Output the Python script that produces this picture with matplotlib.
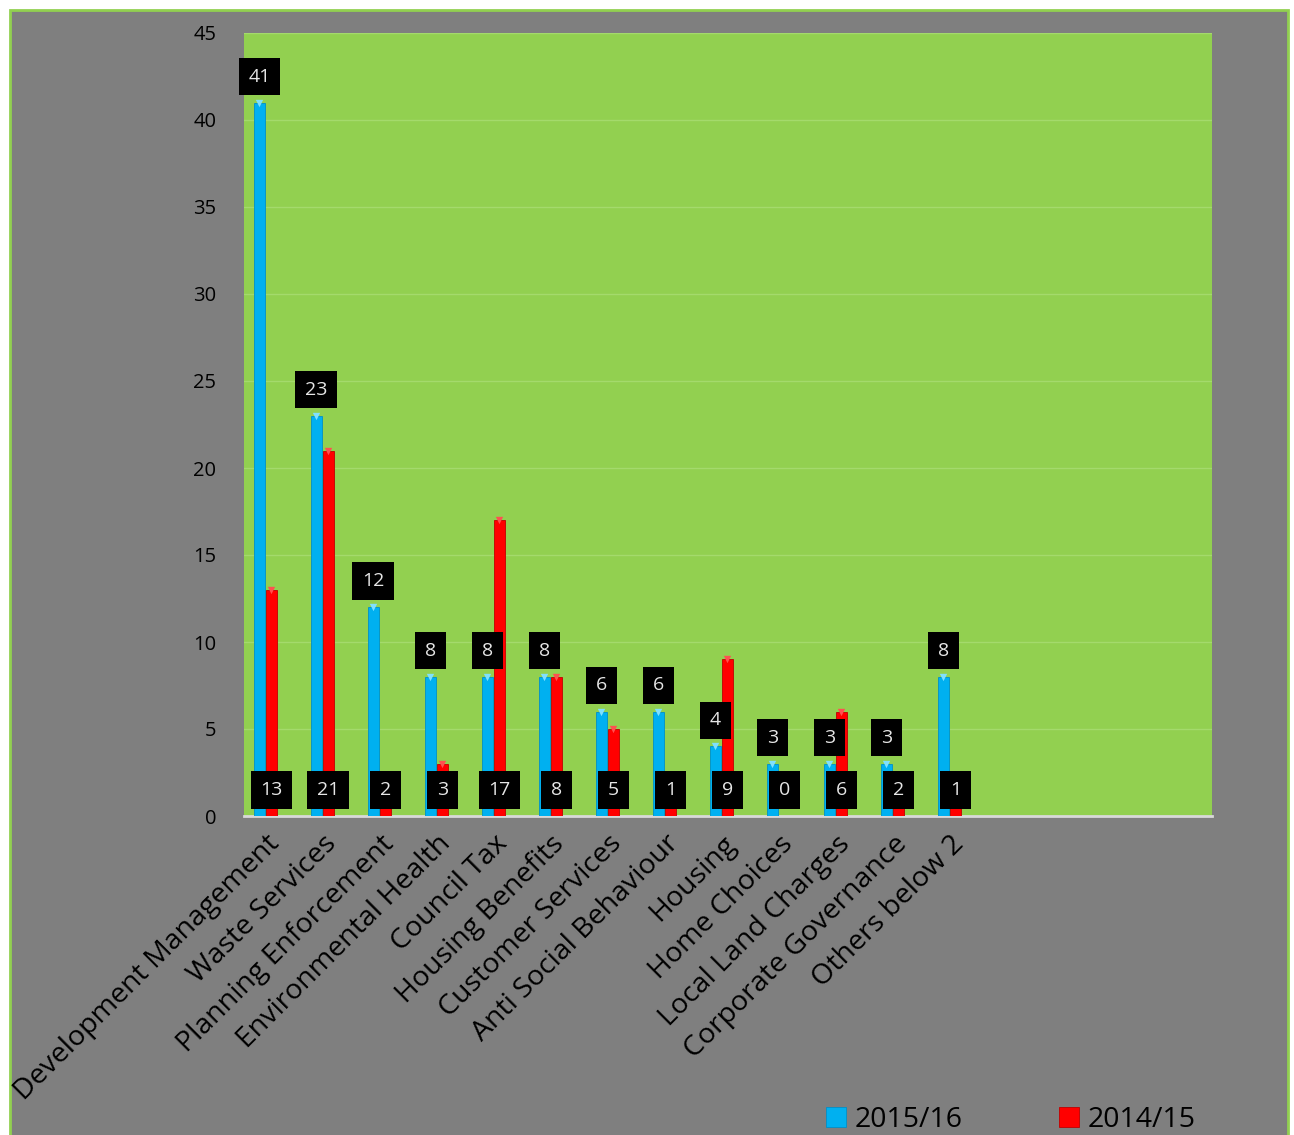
import numpy as np
import matplotlib.pyplot as plt
from matplotlib.patches import Rectangle

categories = ["Development Management", "Waste Services", "Planning Enforcement",
              "Environmental Health", "Council Tax", "Housing Benefits",
              "Customer Services", "Anti Social Behaviour", "Housing",
              "Home Choices", "Local Land Charges", "Corporate Governance",
              "Others below 2"]
y2015 = [41, 23, 12, 8, 8, 8, 6, 6, 4, 3, 3, 3, 8]
y2014 = [13, 21, 2, 3, 17, 8, 5, 1, 9, 0, 6, 2, 1]

plt.rcParams['font.family'] = ['Open Sans', 'DejaVu Sans']

fig = plt.figure(figsize=(12.94, 11.35), dpi=100)
fig.patch.set_facecolor('white')
# grey chart area with green border
bg = Rectangle((10 / 1294, -0.01), 1278 / 1294, 1 - 10 / 1135 + 0.01,
               transform=fig.transFigure, facecolor='#7f7f7f',
               edgecolor='#92d050', linewidth=2, zorder=-10)
fig.add_artist(bg)

ax = fig.add_axes([244 / 1294, 1 - 816 / 1135, 968 / 1294, 783 / 1135])
ax.set_facecolor('#92d050')

x = np.arange(len(categories))
w = 0.19
blue = '#00b0f0'
red = '#ff0000'
b1 = ax.bar(x - 0.21, y2015, w, color=blue, edgecolor='#0090c8', linewidth=0.6, zorder=3, label='2015/16')
b2 = ax.bar(x, y2014, w, color=red, edgecolor='#c00000', linewidth=0.6, zorder=3, label='2014/15')

# little caps on top of bars
ax.scatter(x - 0.21, y2015, marker='v', s=28, color='#7fe0ff', zorder=4, linewidths=0)
nz = [i for i, v in enumerate(y2014) if v > 0]
ax.scatter(x[nz], [y2014[i] for i in nz], marker='v', s=28, color='#ff5050', zorder=4, linewidths=0)

box = dict(boxstyle='square,pad=0.5', facecolor='black', edgecolor='none')
for xi, v in zip(x, y2015):
    ax.text(xi - 0.21, v + 1.5, str(v), ha='center', va='center', color='#e6e6e6',
            fontsize=14, bbox=box, zorder=5)
for xi, v in zip(x, y2014):
    ax.text(xi, 1.5, str(v), ha='center', va='center', color='#e6e6e6',
            fontsize=14, bbox=box, zorder=5)

ax.set_xlim(-0.48, 16.5)
ax.set_ylim(0, 45)
ax.set_yticks(range(0, 46, 5))
ax.tick_params(axis='y', length=0, labelsize=14.5, pad=20)
ax.tick_params(axis='x', length=0, pad=10)
ax.set_xticks(x - 0.1)
ax.set_xticklabels(categories, rotation=45, ha='right', rotation_mode='anchor', fontsize=20.5)
ax.yaxis.grid(True, color='#a4da6c', linewidth=1, zorder=1)
ax.set_axisbelow(True)
for s in ['top', 'right', 'left']:
    ax.spines[s].set_visible(False)
ax.spines['bottom'].set_color('#d9d9d9')
ax.spines['bottom'].set_linewidth(2)

leg = fig.legend(handles=[b1, b2], loc='center', bbox_to_anchor=(0.781, 0.0135), ncol=2,
                 frameon=False, fontsize=20.5, handlelength=0.7, handleheight=0.7,
                 handletextpad=0.3, columnspacing=3.4)

fig.savefig('out.png', dpi=100)
